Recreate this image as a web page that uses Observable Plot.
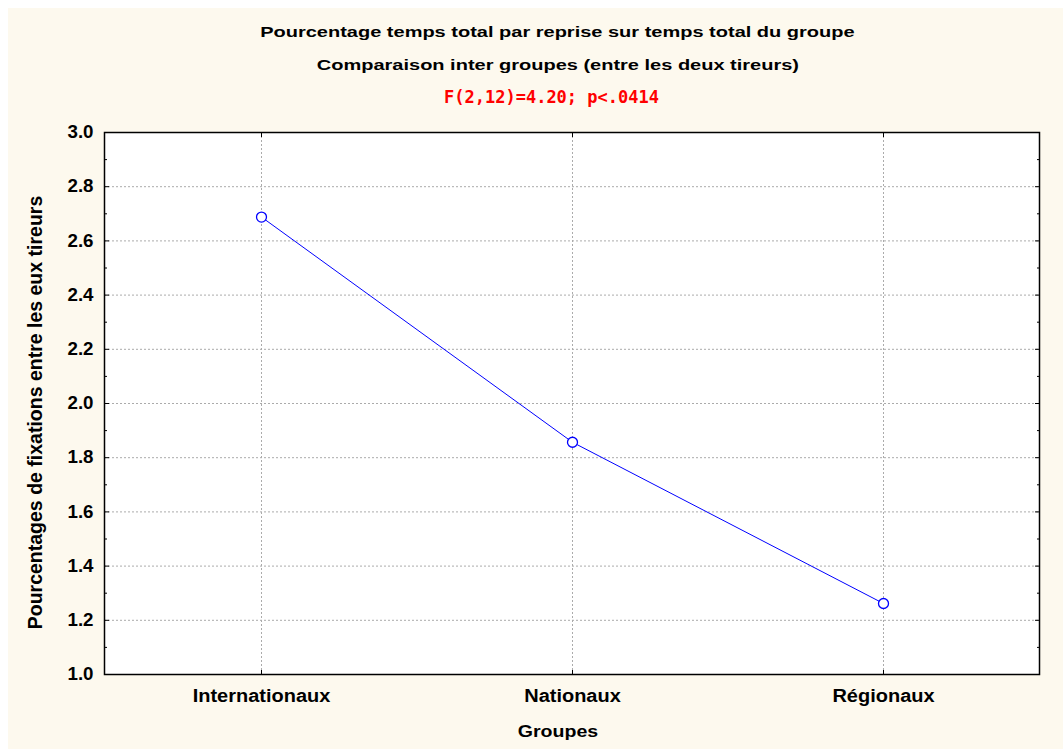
<!DOCTYPE html>
<html>
<head>
<meta charset="utf-8">
<script src="https://cdn.jsdelivr.net/npm/d3@7"></script>
<script src="https://cdn.jsdelivr.net/npm/@observablehq/plot@0.6"></script>
<style>
  html, body { margin: 0; padding: 0; background: #ffffff; }
  #page { position: absolute; left: 8px; top: 8px; width: 1055px; height: 741px; background: #fdf9ee; overflow: hidden; }
  .t { text-align: center; font-family: "Liberation Sans", Arial, sans-serif; font-weight: bold; font-size: 15.5px; line-height: 32.5px; height: 32.5px; color: #000; white-space: nowrap; }
  .t span { display: inline-block; transform: scaleX(1.29); transform-origin: center; }
  .t.red { color: #ff0000; font-family: "DejaVu Sans Mono", monospace; font-size: 17px; }
  .t.red span { transform: none; margin-left: -12px; }
  #titles { padding-top: 8px; padding-left: 44px; height: 99px; }
  #chart svg { display: block; }
</style>
</head>
<body>
<div id="page">
  <div id="titles">
    <div class="t"><span>Pourcentage temps total par reprise sur temps total du groupe</span></div>
    <div class="t"><span>Comparaison inter groupes (entre les deux tireurs)</span></div>
    <div class="t red"><span>F(2,12)=4.20; p&lt;.0414</span></div>
  </div>
  <div id="chart"></div>
</div>
<script>
const categories = ["Internationaux", "Nationaux", "Régionaux"];
const values = [2.688, 1.857, 1.262];
const yMajorTicks = [1.0, 1.2, 1.4, 1.6, 1.8, 2.0, 2.2, 2.4, 2.6, 2.8, 3.0];
const yMinorTicks = [1.1, 1.3, 1.5, 1.7, 1.9, 2.1, 2.3, 2.5, 2.7, 2.9];
const yGridTicks = [1.2, 1.4, 1.6, 1.8, 2.0, 2.2, 2.4, 2.6, 2.8];
const xLabel = "Groupes";
const yLabel = "Pourcentages de fixations entre les eux tireurs";

const data = categories.map((c, i) => ({cat: c, val: values[i]}));

const chart = Plot.plot({
  width: 1055,
  height: 633,
  marginTop: 17,
  marginBottom: 74,
  marginLeft: 96,
  marginRight: 24,
  style: {fontFamily: "'Liberation Sans', Arial, sans-serif", fontWeight: "bold", fontSize: "15px", color: "#000", background: "transparent", overflow: "visible"},
  x: {type: "point", domain: categories, padding: 0.5, label: null},
  y: {domain: [1, 3], label: null},
  marks: [
    Plot.frame({fill: "white", stroke: null}),
    Plot.gridY(yGridTicks, {stroke: "#ababab", strokeOpacity: 1, strokeDasharray: "2,2"}),
    Plot.gridX(categories, {stroke: "#ababab", strokeOpacity: 1, strokeDasharray: "2,2"}),
    // inward tick marks
    Plot.axisY(yMajorTicks, {anchor: "left", tickSize: -5, text: null, label: null}),
    Plot.axisY(yMinorTicks, {anchor: "left", tickSize: -3, text: null, label: null}),
    Plot.axisY(yMajorTicks, {anchor: "right", tickSize: -5, text: null, label: null}),
    Plot.axisY(yMinorTicks, {anchor: "right", tickSize: -3, text: null, label: null}),
    Plot.axisX(categories, {anchor: "bottom", tickSize: -4, text: null, label: null}),
    Plot.axisX(categories, {anchor: "top", tickSize: -4, text: null, label: null}),
    // tick labels
    Plot.axisY(yMajorTicks, {anchor: "left", tickSize: 0, tickPadding: 11, tickFormat: d3.format(".1f"), fontSize: 18, fontWeight: "bold", label: null, className: "ytl"}),
    Plot.axisX(categories, {anchor: "bottom", tickSize: 0, tickPadding: 14, fontSize: 18.5, fontWeight: "bold", label: null, className: "xtl"}),
    Plot.text([xLabel], {frameAnchor: "bottom", textAnchor: "middle", dx: -14, dy: 57, fontSize: 16.3, fontWeight: "bold", lineAnchor: "middle", className: "xlab"}),
    Plot.text([yLabel], {frameAnchor: "left", textAnchor: "middle", dx: -69, dy: 9, rotate: -90, fontSize: 19.5, fontWeight: "bold", lineAnchor: "middle", className: "ylab"}),
    Plot.frame({stroke: "#000", strokeWidth: 1.5}),
    Plot.line(data, {x: "cat", y: "val", stroke: "#0000ff", strokeWidth: 1}),
    Plot.dot(data, {x: "cat", y: "val", r: 5, stroke: "#0000ff", fill: "white", strokeWidth: 1.3})
  ]
});
document.getElementById("chart").appendChild(chart);

// slight horizontal stretch of the bold labels, to mimic the reference's wide lettering
function stretch(sel, sx, sy) {
  chart.querySelectorAll(sel).forEach(t => {
    const tr = t.getAttribute("transform");
    if (tr) {
      t.setAttribute("transform", tr + ` scale(${sx},${sy})`);
    } else {
      const x = +t.getAttribute("x") || 0, y = +t.getAttribute("y") || 0;
      t.setAttribute("transform", `translate(${x},${y}) scale(${sx},${sy}) translate(${-x},${-y})`);
    }
  });
}
stretch(".ytl text", 1.04, 1);
stretch(".xtl text", 1.08, 1);
stretch(".xlab text", 1.2, 1);
</script>
</body>
</html>
